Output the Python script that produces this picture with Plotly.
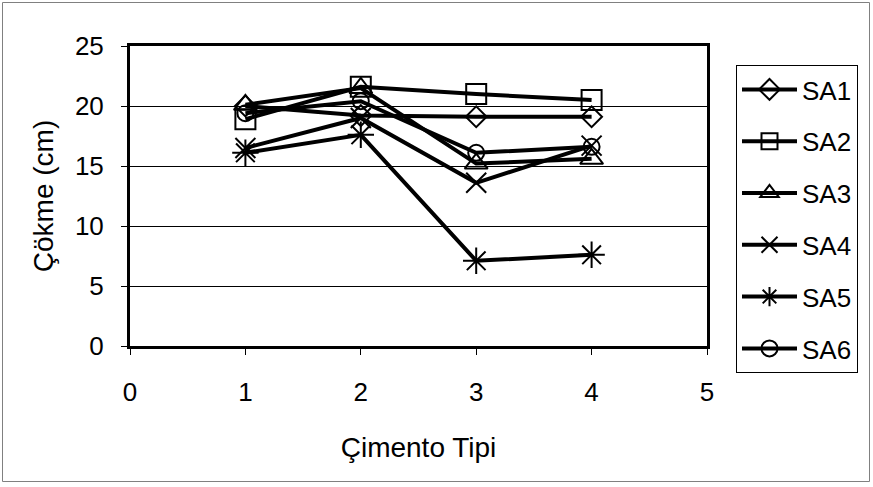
import plotly.graph_objects as go

# Cement type (x) and slump values (cm) for each mix
cement_types = [1, 2, 3, 4]
series_names = ["SA1", "SA2", "SA3", "SA4", "SA5", "SA6"]
sa1 = [20.0, 19.2, 19.1, 19.1]
sa2 = [18.9, 21.6, 21.0, 20.5]
sa3 = [20.1, 21.5, 15.2, 15.6]
sa4 = [16.5, 19.0, 13.6, 16.7]
sa5 = [16.1, 17.6, 7.1, 7.6]
sa6 = [19.4, 20.4, 16.1, 16.6]
values = [sa1, sa2, sa3, sa4, sa5, sa6]

symbols = ["diamond-open", "square-open", "triangle-up-open",
           "x-thin-open", "asterisk-open", "circle-open"]
sizes = [16, 20, 20, 20, 22, 16]

FONT = "Liberation Sans, Arial, Helvetica, sans-serif"
FS = 26
TITLE_FS = 28

fig = go.Figure()
for i, (name, ys) in enumerate(zip(series_names, values)):
    fig.add_trace(go.Scatter(
        x=cement_types, y=ys, name=name, mode="lines+markers",
        legendgroup=name,
        line=dict(color="black", width=4),
        marker=dict(symbol=symbols[i], size=sizes[i], color="black",
                    line=dict(color="black", width=2)),
    ))

W, H = 873, 487
L, R, T, B = 130, 707, 46, 346

def px(x):
    return (x - L) / (R - L)

def py(y):
    return (B - y) / (B - T)

fig.update_layout(
    width=W, height=H,
    margin=dict(l=L, r=W - R, t=T, b=H - B),
    paper_bgcolor="white", plot_bgcolor="white",
    font=dict(family=FONT, size=FS, color="black"),
    showlegend=True,
    legend=dict(
        x=px(736), y=py(65), xanchor="left", yanchor="top",
        bordercolor="black", borderwidth=1, bgcolor="white",
        font=dict(size=FS), tracegroupgap=15, itemwidth=55,
        maxheight=470,
    ),
    xaxis=dict(
        range=[0, 5], tickmode="linear", tick0=0, dtick=1,
        showline=True, linecolor="black", linewidth=3, mirror=True,
        ticks="outside", ticklen=6, tickwidth=1, tickcolor="black",
        showgrid=False, zeroline=False, ticklabelstandoff=15,
        title=dict(text="Çimento Tipi", font=dict(size=TITLE_FS), standoff=32),
    ),
    yaxis=dict(
        range=[0, 25], tickmode="linear", tick0=0, dtick=5,
        showline=True, linecolor="black", linewidth=3, mirror=True,
        ticks="outside", ticklen=6, tickwidth=1, tickcolor="black",
        showgrid=True, gridcolor="black", gridwidth=1, zeroline=False,
        ticklabelstandoff=12,
        title=dict(text="Çökme (cm)", font=dict(size=TITLE_FS), standoff=14),
    ),
    shapes=[dict(
        type="rect", xref="paper", yref="paper", layer="below",
        x0=px(2.5), x1=px(869.5), y0=py(481.5), y1=py(2.5),
        line=dict(color="#808080", width=1), fillcolor="rgba(0,0,0,0)",
    )],
)

fig.write_html("out.html")
